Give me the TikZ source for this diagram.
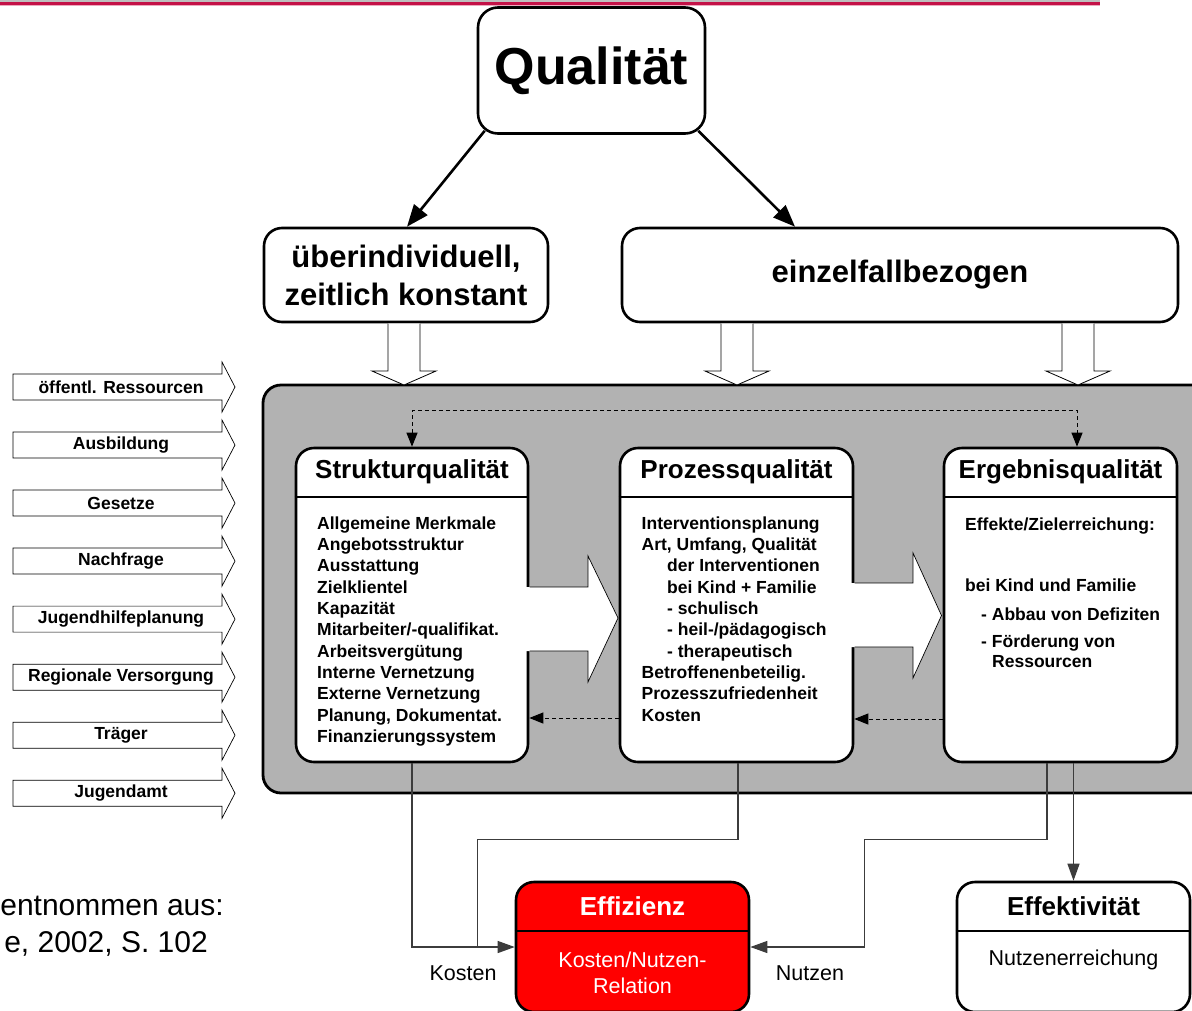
\documentclass[tikz,border=0pt]{standalone}
\usepackage{fontspec}
\setmainfont{Liberation Sans}
\usetikzlibrary{arrows.meta,calc}
\definecolor{boxgray}{RGB}{178,178,178}
\definecolor{lineRed}{RGB}{196,18,72}
\definecolor{linePink}{RGB}{236,170,190}
\definecolor{connGray}{RGB}{60,60,60}
\begin{document}
\begin{tikzpicture}[x=1pt,y=-1pt,
  rbox/.style={draw=black, line width=2.6pt, rounded corners=18pt, fill=white, inner sep=0pt},
  hdr/.style={font=\bfseries\fontsize{26}{30}\selectfont, inner sep=0pt},
  body/.style={font=\bfseries\fontsize{17.5}{21.35}\selectfont, align=left, inner sep=0pt, anchor=north west},
  erg/.style={font=\bfseries\fontsize{17.5}{21.35}\selectfont, inner sep=0pt, anchor=base west},
  lbl/.style={font=\fontsize{21.5}{26}\selectfont, inner sep=0pt},
  hollow/.style={draw=black, line width=0.8pt, fill=white, line join=miter},
  qarr/.style={line width=2.6pt, -{Triangle[length=22pt,width=17pt]}},
  dashline/.style={line width=1pt, dash pattern=on 4pt off 3pt},
  dtip/.style={-{Triangle[length=14pt,width=11pt]}},
  conn/.style={line width=1.2pt, draw=connGray},
  connarr/.style={conn, -{Triangle[length=17pt,width=12pt]}},
  inarrow/.style={draw=black, line width=0.7pt, fill=white},
  infl/.style={font=\bfseries\fontsize{17.5}{20}\selectfont, inner sep=0pt},
]
\useasboundingbox (0,0) rectangle (1192,1010);

% top rule
\draw[line width=1.5pt, color=gray!50] (0,0.8) -- (1100,0.8);
\draw[line width=2.6pt, color=lineRed] (0,3.3) -- (1100,3.3);
\draw[line width=1.2pt, color=linePink] (0,5.6) -- (1100,5.6);

% gray container
\begin{scope}
\clip (0,0) rectangle (1192,1010);
\draw[line width=2.8pt, fill=boxgray, rounded corners=18pt] (263,385) rectangle (1240,793);
\end{scope}

% top boxes
\node[rbox, rounded corners=20pt, minimum width=227pt, minimum height=126pt,
      font=\bfseries\fontsize{52}{60}\selectfont] (q) at (591.5,70.5) {Qualität};
\node[rbox, minimum width=284pt, minimum height=94pt, align=center,
      font=\bfseries\fontsize{31}{38}\selectfont] (ui) at (406,275) {überindividuell,\\zeitlich konstant};
\node[rbox, minimum width=556pt, minimum height=94pt,
      font=\bfseries\fontsize{31}{38}\selectfont] (ein) at (900,275) {einzelfallbezogen};

\draw[qarr] ([shift={(8pt,4pt)}]q.south west) -- ([xshift=1pt]ui.north);
\draw[qarr] ([shift={(-8pt,4pt)}]q.south east) -- ([xshift=-105pt]ein.north);

% hollow down arrows
\draw[hollow] (388,323.5) -- (388,371) -- (372,371) -- (404,385) -- (436,371) -- (420,371) -- (420,323.5);
\draw[hollow] (721,323.5) -- (721,371) -- (705,371) -- (737,385) -- (769,371) -- (753,371) -- (753,323.5);
\draw[hollow] (1062,323.5) -- (1062,371) -- (1046,371) -- (1078,385) -- (1110,371) -- (1094,371) -- (1094,323.5);

% inner boxes
\node[rbox, minimum width=232pt, minimum height=314pt] (sq) at (412,605) {};
\node[rbox, minimum width=233pt, minimum height=314pt] (pq) at (736.5,605) {};
\node[rbox, minimum width=233pt, minimum height=314pt] (eq) at (1060.5,605) {};
\foreach \n in {sq,pq,eq}
  \draw[line width=2.2pt] ([yshift=-50pt]\n.north west) -- ([yshift=-50pt]\n.north east);
\node[hdr] (sqt) at ([yshift=-25pt]sq.north) {Strukturqualität};
\node[hdr] (pqt) at ([yshift=-25pt]pq.north) {Prozessqualität};
\node[hdr] (eqt) at ([yshift=-25pt]eq.north) {Ergebnisqualität};

\node[body] (sqb) at (317,516.3) {Allgemeine Merkmale\\Angebotsstruktur\\Ausstattung\\Zielklientel\\Kapazität\\Mitarbeiter/-qualifikat.\\Arbeitsvergütung\\Interne Vernetzung\\Externe Vernetzung\\Planung, Dokumentat.\\Finanzierungssystem};
\node[body] (pqb) at (641.5,516.3) {Interventionsplanung\\Art, Umfang, Qualität\\\hspace*{25.5pt}der Interventionen\\\hspace*{25.5pt}bei Kind + Familie\\\hspace*{25.5pt}- schulisch\\\hspace*{25.5pt}- heil-/pädagogisch\\\hspace*{25.5pt}- therapeutisch\\Betroffenenbeteilig.\\Prozesszufriedenheit\\Kosten};
\node[erg] (e1) at (965,530) {Effekte/Zielerreichung:};
\node[erg] (e2) at (965,591) {bei Kind und Familie};
\node[erg] (e3) at (981,620) {- Abbau von Defiziten};
\node[erg] (e4) at (981,647) {- Förderung von};
\node[erg] (e5) at (992,667) {Ressourcen};

% big hollow arrows between boxes
\path[fill=white] (520,587) -- (588,587) -- (588,556) -- (618,618) -- (588,682) -- (588,651) -- (520,651) -- cycle;
\draw[line width=0.7pt] (529.5,587) -- (588,587) -- (588,556) -- (618,618) -- (588,682) -- (588,651) -- (529.5,651);
\path[fill=white] (845,583) -- (913,583) -- (913,553) -- (941.5,615.5) -- (913,678) -- (913,647) -- (845,647) -- cycle;
\draw[line width=0.7pt] (854.5,583) -- (913,583) -- (913,553) -- (941.5,615.5) -- (913,678) -- (913,647) -- (854.5,647);

% dashed feedback connectors
\draw[dashline, {Triangle[length=14pt,width=11pt]}-{Triangle[length=14pt,width=11pt]}]
  (sq.north) -- ++(0,-36) -| ([xshift=16.5pt]eq.north);
\draw[dashline, dtip] ([yshift=-113pt]pq.west) -- ([yshift=-113pt]sq.east);
\draw[dashline, dtip] ([yshift=-114pt]eq.west) -- ([yshift=-114pt]pq.east);

% bottom boxes
\node[rbox, fill=red, minimum width=233pt, minimum height=130pt] (eff) at (632.5,947) {};
\node[rbox, minimum width=233pt, minimum height=130pt] (eft) at (1073.5,947) {};
\foreach \n in {eff,eft}
  \draw[line width=2.2pt] ([yshift=-50pt]\n.north west) -- ([yshift=-50pt]\n.north east);
\node[hdr, text=white] (efft) at ([yshift=-25pt]eff.north) {Effizienz};
\node[hdr] (eftt) at ([yshift=-25pt]eft.north) {Effektivität};
\node[lbl, text=white, align=center] (effb) at (632.5,973) {Kosten/Nutzen-\\Relation};
\node[lbl] (eftb) at (1073.5,960) {Nutzenerreichung};

% bottom connectors
\coordinate (kj) at ($(eff.west)+(-37,0)$);
\coordinate (nj) at ($(eff.east)+(114,0)$);
\draw[connarr] (sq.south) |- (eff.west);
\draw[conn] ([xshift=1.5pt]pq.south) -- ++(0,76) -| (kj);
\draw[connarr] ([xshift=-13.5pt]eq.south) -- ++(0,76) -| (nj) -- (eff.east);
\draw[connarr] (eq.south -| eft.north) -- (eft.north);
\node[lbl] (kl) at (463,973) {Kosten};
\node[lbl] (nl) at (810,973) {Nutzen};

% left influence arrows
\foreach \lab [count=\i] in {öffentl. Ressourcen, Ausbildung, Gesetze, Nachfrage, Jugendhilfeplanung, Regionale Versorgung, Träger, Jugendamt} {
  \pgfmathsetmacro{\yy}{387+58.03*(\i-1)}
  \draw[inarrow] (13,\yy-13) -- (222,\yy-13) -- (222,\yy-25) -- (235,\yy) -- (222,\yy+25) -- (222,\yy+13) -- (13,\yy+13) -- cycle;
  \node[infl] (in\i) at (121,\yy) {\lab};
}

% source note
\node[font=\fontsize{30}{36}\selectfont, anchor=base east, inner sep=0pt] (src1) at (224,915) {entnommen aus:};
\node[font=\fontsize{30}{36}\selectfont, anchor=base east, inner sep=0pt] (src2) at (208,952) {e, 2002, S. 102};
\end{tikzpicture}
\end{document}
